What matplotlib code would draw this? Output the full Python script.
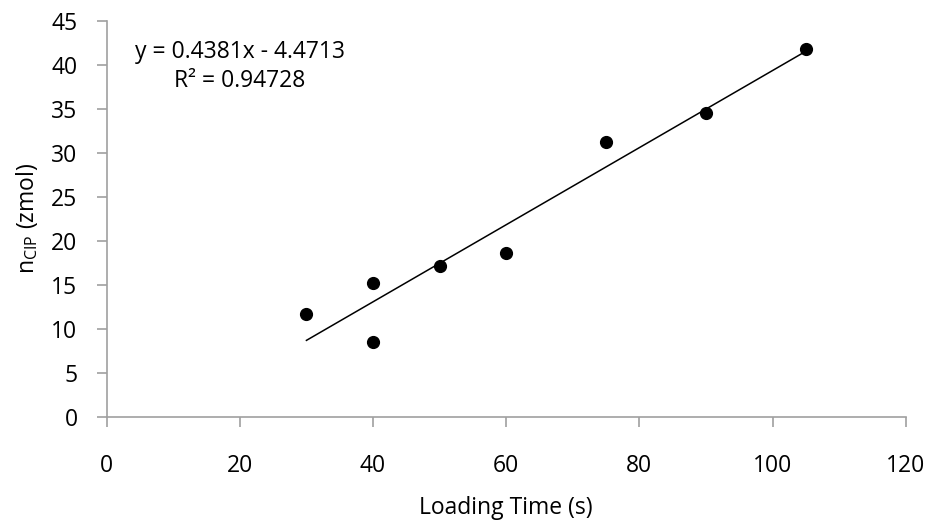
import numpy as np
import matplotlib
matplotlib.use("Agg")
import matplotlib.pyplot as plt

plt.rcParams['font.family'] = ['Open Sans', 'DejaVu Sans']

loading_time = [30, 40, 40, 50, 60, 75, 90, 105]
n_cip = [11.67, 15.23, 8.49, 17.09, 18.64, 31.2, 34.55, 41.75]
x_ticks = [0, 20, 40, 60, 80, 100, 120]
y_ticks = [0, 5, 10, 15, 20, 25, 30, 35, 40, 45]
slope, intercept = 0.4381, -4.4713
eq_text = "y = 0.4381x - 4.4713\nR² = 0.94728"

fig = plt.figure(figsize=(9.3, 5.23), dpi=100)
ax = fig.add_axes([0.1147, 0.2033, 0.9739 - 0.1147, 0.9604 - 0.2033])

ax.scatter(loading_time, n_cip, s=72, color='black', zorder=3)
xl = np.array([min(loading_time), max(loading_time)])
ax.plot(xl, slope * xl + intercept, color='black', lw=1.1, zorder=2)

ax.set_xlim(0, 120)
ax.set_ylim(0, 45)
ax.set_xticks(x_ticks)
ax.set_yticks(y_ticks)

for s in ['top', 'right']:
    ax.spines[s].set_visible(False)
for s in ['left', 'bottom']:
    ax.spines[s].set_color('#a0a0a0')
    ax.spines[s].set_linewidth(1.2)

fs = 16.5
ax.tick_params(axis='both', colors='#a0a0a0', length=7, width=1.2, labelsize=fs, labelcolor='black')
ax.tick_params(axis='x', pad=20)
ax.tick_params(axis='y', pad=14)

ax.set_xlabel("Loading Time (s)", fontsize=fs, labelpad=13)
ax.set_ylabel(r"n$_\mathregular{CIP}$ (zmol)", fontsize=fs, labelpad=8)

ax.text(0.167, 0.884, eq_text, transform=ax.transAxes, fontsize=fs,
        ha='center', va='center', multialignment='center', linespacing=1.25)

fig.savefig("out.png", dpi=100)
